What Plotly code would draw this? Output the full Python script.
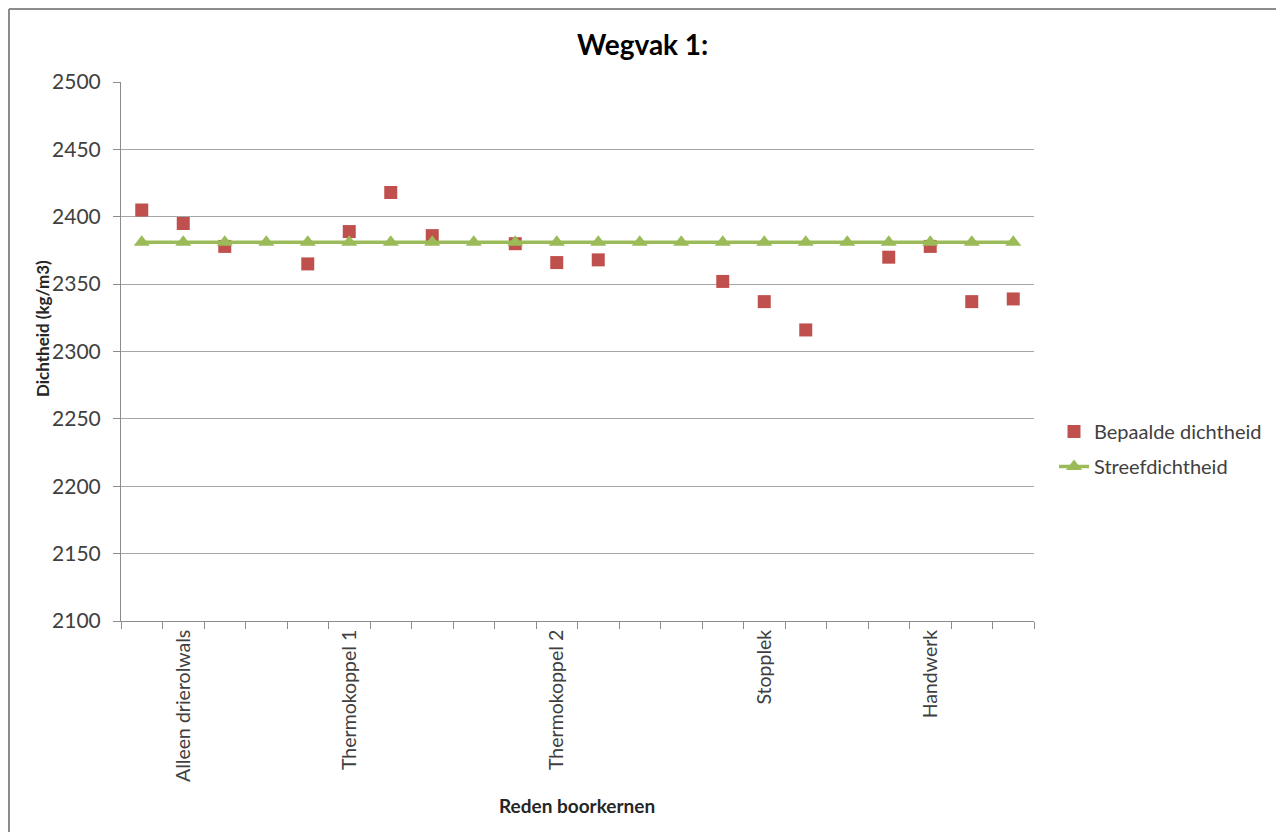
import plotly.graph_objects as go

# ---- data ----
categories = ["", "Alleen drierolwals", "", "", "", "Thermokoppel 1", "", "", "", "",
              "Thermokoppel 2", "", "", "", "", "Stopplek", "", "", "", "Handwerk", "", ""]
bepaalde_dichtheid = [2405, 2395, 2378, None, 2365, 2389, 2418, 2386, None, 2380,
                      2366, 2368, None, None, 2352, 2337, 2316, None, 2370, 2378, 2337, 2339]
streefdichtheid = [2381] * 22

positions = list(range(1, len(categories) + 1))
label_pos = [p for p, c in zip(positions, categories) if c]
label_txt = [c for c in categories if c]
boundaries = [p - 0.5 for p in positions] + [positions[-1] + 0.5]

FONT = "Lato, 'Open Sans', sans-serif"
OFF = 8  # page body margin
W, H = 1284 - OFF, 832 - OFF
ML, MT = 121 - OFF, 82 - OFF
MR = W - (1034 - OFF)
MB = H - (621 - OFF)
PW, PH = W - ML - MR, H - MT - MB

def px_x(px):
    return (px - OFF - ML) / PW

def px_y(py):
    return (H - MB - (py - OFF)) / PH

fig = go.Figure()
fig.add_trace(go.Scatter(
    x=positions, y=bepaalde_dichtheid, mode="markers", name="Bepaalde dichtheid",
    legendgroup="a",
    marker=dict(symbol="square", size=13, color="#c0504d"),
))
fig.add_trace(go.Scatter(
    x=positions, y=streefdichtheid, mode="lines+markers", name="Streefdichtheid",
    legendgroup="b",
    line=dict(color="#9bbb59", width=3.5),
    marker=dict(symbol="triangle-up", size=14, color="#9bbb59"),
))

border = dict(color="#8c8c8c", width=2)
fig.update_layout(
    width=W, height=H,
    margin=dict(l=ML, r=MR, t=MT, b=MB),
    paper_bgcolor="white", plot_bgcolor="white",
    font=dict(family=FONT, color="#404040", size=19),
    showlegend=True,
    legend=dict(x=px_x(1054), y=px_y(449), xanchor="left", yanchor="middle",
                font=dict(size=20, color="#404040"), bgcolor="rgba(0,0,0,0)",
                tracegroupgap=6, itemwidth=30),
    xaxis=dict(
        range=[0.5, len(categories) + 0.5],
        tickmode="array", tickvals=label_pos, ticktext=label_txt,
        tickangle=-90, ticks="", showgrid=False, zeroline=False,
        showline=True, linecolor="#8c8c8c", linewidth=1,
        tickfont=dict(size=19.5, color="#404040"),
        minor=dict(tickvals=boundaries, ticks="outside", ticklen=7,
                   tickcolor="#8c8c8c", tickwidth=1, showgrid=False),
        fixedrange=True,
    ),
    yaxis=dict(
        range=[2100, 2500], dtick=50, tick0=2100,
        ticks="outside", ticklen=7, tickcolor="#8c8c8c",
        ticklabelstandoff=8,
        showgrid=True, gridcolor="#a6a6a6", gridwidth=1,
        showline=True, linecolor="#8c8c8c", linewidth=1, zeroline=False,
        tickfont=dict(size=21, color="#404040"),
        fixedrange=True,
    ),
    shapes=[
        dict(type="line", xref="paper", yref="paper",
             x0=px_x(9), x1=px_x(9), y0=px_y(9), y1=px_y(840), line=border),
        dict(type="line", xref="paper", yref="paper",
             x0=px_x(9), x1=px_x(1278), y0=px_y(9), y1=px_y(9), line=border),
        dict(type="line", xref="paper", yref="paper",
             x0=px_x(1278), x1=px_x(1278), y0=px_y(9), y1=px_y(840), line=border),
    ],
    annotations=[
        dict(text="<b>Wegvak 1:</b>", xref="paper", yref="paper",
             x=px_x(642), y=px_y(44), xanchor="center", yanchor="middle",
             showarrow=False, font=dict(size=28, color="#000000", family=FONT)),
        dict(text="<b>Reden boorkernen</b>", xref="paper", yref="paper",
             x=px_x(577), y=px_y(805), xanchor="center", yanchor="middle",
             showarrow=False, font=dict(size=19, color="#262626", family=FONT)),
        dict(text="<b>Dichtheid (kg/m3)</b>", xref="paper", yref="paper",
             x=px_x(42), y=px_y(329), xanchor="center", yanchor="middle",
             textangle=-90, showarrow=False,
             font=dict(size=17, color="#262626", family=FONT)),
    ],
)

fig.write_html("out.html")
